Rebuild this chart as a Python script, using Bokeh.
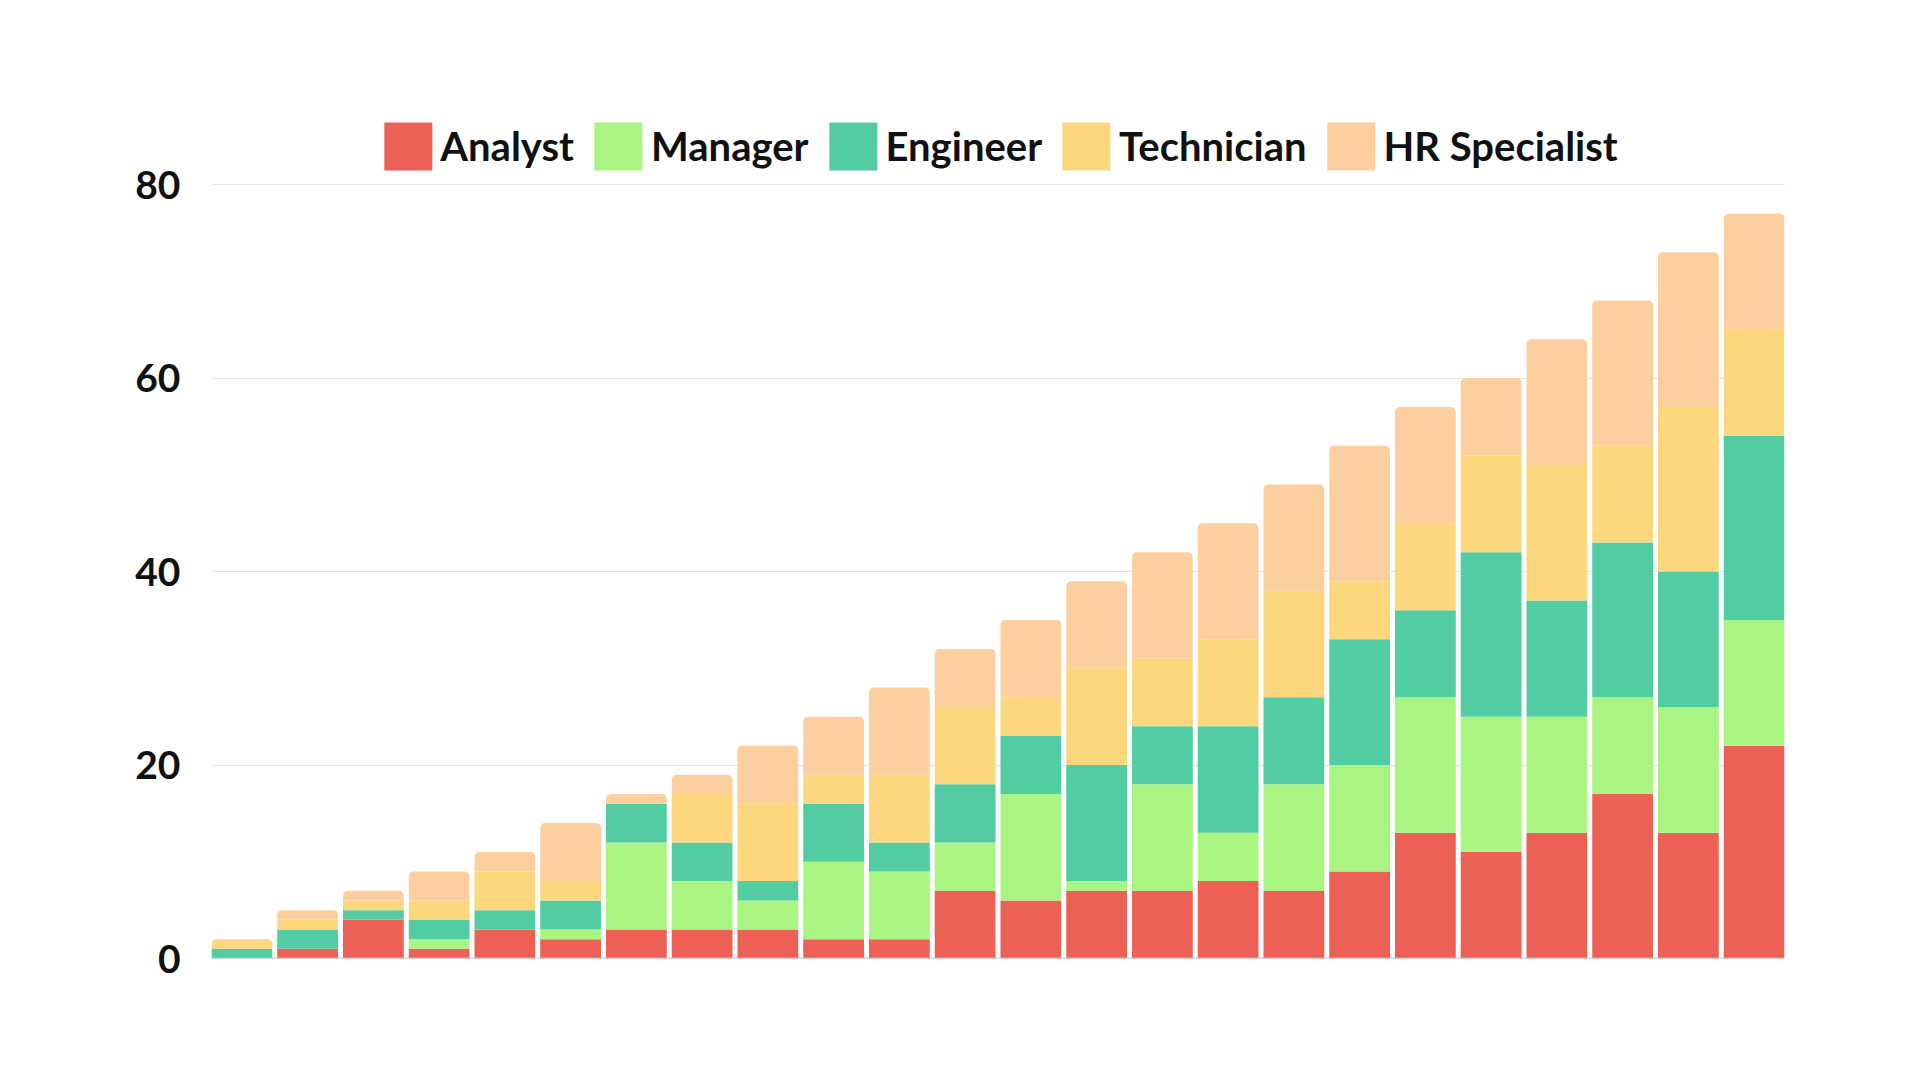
from bokeh.plotting import figure
from bokeh.models import ColumnDataSource, Range1d, FixedTicker, Legend, LegendItem, Span
from bokeh.embed import file_html
from bokeh.resources import INLINE

# one bar per period, no labels on the x axis
periods = list(range(1, 25))

roles = ["Analyst", "Manager", "Engineer", "Technician", "HR Specialist"]
colors = ["#ED6055", "#AAF482", "#52CCA3", "#FCD77D", "#FDCF9E"]

analyst = [0, 1, 4, 1, 3, 2, 3, 3, 3, 2, 2, 7, 6, 7, 7, 8, 7, 9, 13, 11, 13, 17, 13, 22]
manager = [0, 0, 0, 1, 0, 1, 9, 5, 3, 8, 7, 5, 11, 1, 11, 5, 11, 11, 14, 14, 12, 10, 13, 13]
engineer = [1, 2, 1, 2, 2, 3, 4, 4, 2, 6, 3, 6, 6, 12, 6, 11, 9, 13, 9, 17, 12, 16, 14, 19]
technician = [1, 1, 1, 2, 4, 2, 0, 5, 8, 3, 7, 8, 4, 10, 7, 9, 11, 6, 9, 10, 14, 10, 17, 11]
hr_specialist = [0, 1, 1, 3, 2, 6, 1, 2, 6, 6, 9, 6, 8, 9, 11, 12, 11, 14, 12, 8, 13, 15, 16, 12]

y_ticks = [0, 20, 40, 60, 80]

series = [analyst, manager, engineer, technician, hr_specialist]

FONT = "Lato"
BAR_W = 0.924

# pixel layout: frame 211..1784 x 116..958, 80 gridline at 184
W, H = 1900, 1064
F_LEFT, F_RIGHT, F_TOP, F_BOTTOM = 211, 1784, 116, 958
Y80_PX = 184
px_per_unit = (F_BOTTOM - Y80_PX) / 80.0
y_end = 80 + (Y80_PX - F_TOP) / px_per_unit

p = figure(
    width=W, height=H,
    x_range=Range1d(1 - BAR_W / 2, len(periods) + BAR_W / 2),
    y_range=Range1d(0, y_end),
    output_backend="svg",
    toolbar_location=None,
    min_border_left=F_LEFT, min_border_right=W - F_RIGHT,
    min_border_top=F_TOP, min_border_bottom=H - F_BOTTOM,
)
p.outline_line_color = None
p.background_fill_color = "white"
p.border_fill_color = "white"

# stack the segments, remember which one is on top of each bar
bottoms = [0] * len(periods)
segs = []
for vals in series:
    b = list(bottoms)
    t = [b[i] + vals[i] for i in range(len(periods))]
    segs.append((b, t))
    bottoms = t

top_idx = []
for i in range(len(periods)):
    k = 0
    for j, vals in enumerate(series):
        if vals[i] > 0:
            k = j
    top_idx.append(k)

legend_items = []
for j, (b, t) in enumerate(segs):
    xs, bs, ts = [], [], []
    for i in range(len(periods)):
        # zero-height pieces are kept, they draw nothing
        if top_idx[i] != j:
            xs.append(periods[i])
            bs.append(b[i])
            ts.append(t[i])
    src = ColumnDataSource(dict(x=xs, bottom=bs, top=ts))
    r = p.vbar(x="x", bottom="bottom", top="top", width=BAR_W, source=src,
               fill_color=colors[j], line_color=None)
    legend_items.append(LegendItem(label=roles[j], renderers=[r]))

# top segments get the rounded corners
tx, tb, tt, tc = [], [], [], []
for i in range(len(periods)):
    j = top_idx[i]
    tx.append(periods[i])
    tb.append(segs[j][0][i])
    tt.append(segs[j][1][i])
    tc.append(colors[j])
top_src = ColumnDataSource(dict(x=tx, bottom=tb, top=tt, color=tc))
p.vbar(x="x", bottom="bottom", top="top", width=BAR_W, source=top_src,
       fill_color="color", line_color=None, border_radius=(5, 5, 0, 0))

p.add_layout(Span(location=0, dimension="width", line_color="#BDBDBD", line_width=2))

p.xaxis.visible = False
p.xgrid.grid_line_color = None
p.ygrid.grid_line_color = "#E2E4E2"
p.ygrid.grid_line_width = 1
p.yaxis.ticker = FixedTicker(ticks=y_ticks)
p.yaxis.axis_line_color = None
p.yaxis.major_tick_line_color = None
p.yaxis.minor_tick_line_color = None
p.yaxis.major_label_standoff = 25
p.yaxis.major_label_text_font = FONT
p.yaxis.major_label_text_font_style = "bold"
p.yaxis.major_label_text_font_size = "39px"
p.yaxis.major_label_text_color = "#111111"

# legend swatches are drawn inset by 10%, so 60 gives 48px squares
legend = Legend(
    items=legend_items, orientation="horizontal", location="top_center",
    glyph_width=60, glyph_height=60, label_standoff=3, spacing=14,
    padding=0, margin=0, border_line_color=None, background_fill_alpha=0,
    label_text_font=FONT, label_text_font_style="bold",
    label_text_font_size="40px", label_text_color="#111111",
    label_height=60,
)
p.add_layout(legend, "center")

open("out.html", "w").write(file_html(p, INLINE))
